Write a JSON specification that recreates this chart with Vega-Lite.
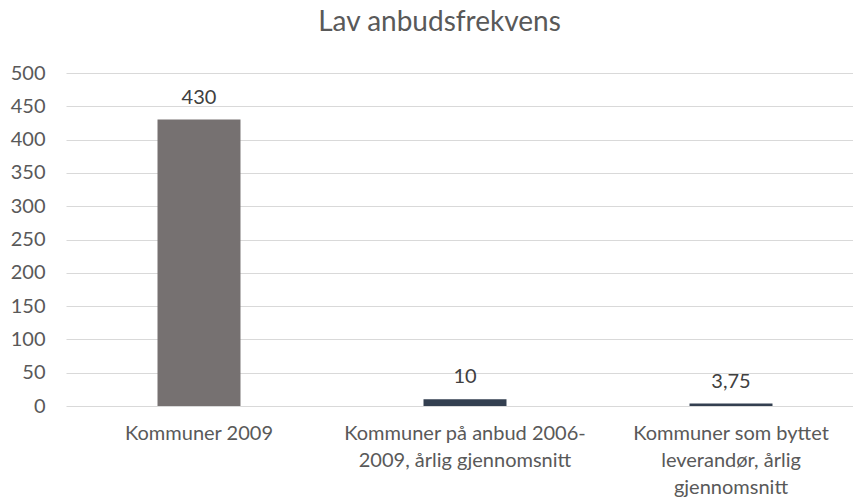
{
  "$schema": "https://vega.github.io/schema/vega-lite/v6.json",
  "width": 787,
  "height": 333,
  "autosize": {"type": "none"},
  "padding": {"left": 66, "top": 73, "right": 0, "bottom": 95},
  "title": {
    "text": "Lav anbudsfrekvens",
    "font": "Lato",
    "fontSize": 28,
    "fontWeight": "normal",
    "color": "#595959",
    "anchor": "middle",
    "dx": -20,
    "offset": 26
  },
  "data": {
    "values": [
      {"category": "Kommuner 2009", "value": 430, "color": "#767171"},
      {"category": "Kommuner på anbud 2006-2009, årlig gjennomsnitt", "value": 10, "color": "#333f50"},
      {"category": "Kommuner som byttet leverandør, årlig gjennomsnitt", "value": 3.75, "color": "#333f50"}
    ]
  },
  "encoding": {
    "x": {
      "field": "category",
      "type": "nominal",
      "sort": null,
      "scale": {"range": [0, 798], "paddingInner": 0.688, "paddingOuter": 0.344},
      "axis": {
        "title": null,
        "domain": false,
        "ticks": false,
        "labelAngle": 0,
        "labelFont": "Lato",
        "labelFontSize": 20,
        "labelColor": "#595959",
        "labelPadding": 17,
        "labelLineHeight": 27,
        "labelLimit": 0,
        "labelExpr": "datum.label == 'Kommuner på anbud 2006-2009, årlig gjennomsnitt' ? ['Kommuner på anbud 2006-', '2009, årlig gjennomsnitt'] : datum.label == 'Kommuner som byttet leverandør, årlig gjennomsnitt' ? ['Kommuner som byttet', 'leverandør, årlig', 'gjennomsnitt'] : datum.label"
      }
    },
    "y": {
      "field": "value",
      "type": "quantitative",
      "scale": {"domain": [0, 500], "nice": false},
      "axis": {
        "title": null,
        "values": [0, 50, 100, 150, 200, 250, 300, 350, 400, 450, 500],
        "domain": false,
        "ticks": false,
        "tickSize": 0,
        "labelPadding": 21,
        "labelFont": "Lato",
        "labelFontSize": 20,
        "labelColor": "#595959",
        "gridColor": "#d9d9d9",
        "gridWidth": 1
      }
    }
  },
  "layer": [
    {
      "mark": {"type": "bar"},
      "encoding": {
        "color": {"field": "color", "type": "nominal", "scale": null}
      }
    },
    {
      "mark": {"type": "text", "dy": -16, "baseline": "alphabetic", "font": "Lato", "fontSize": 20, "color": "#404040"},
      "encoding": {
        "text": {"field": "value", "type": "quantitative", "format": "~g"}
      }
    }
  ],
  "config": {
    "view": {"stroke": null},
    "locale": {
      "number": {"decimal": ",", "thousands": " ", "grouping": [3], "currency": ["", " kr"]}
    }
  }
}
